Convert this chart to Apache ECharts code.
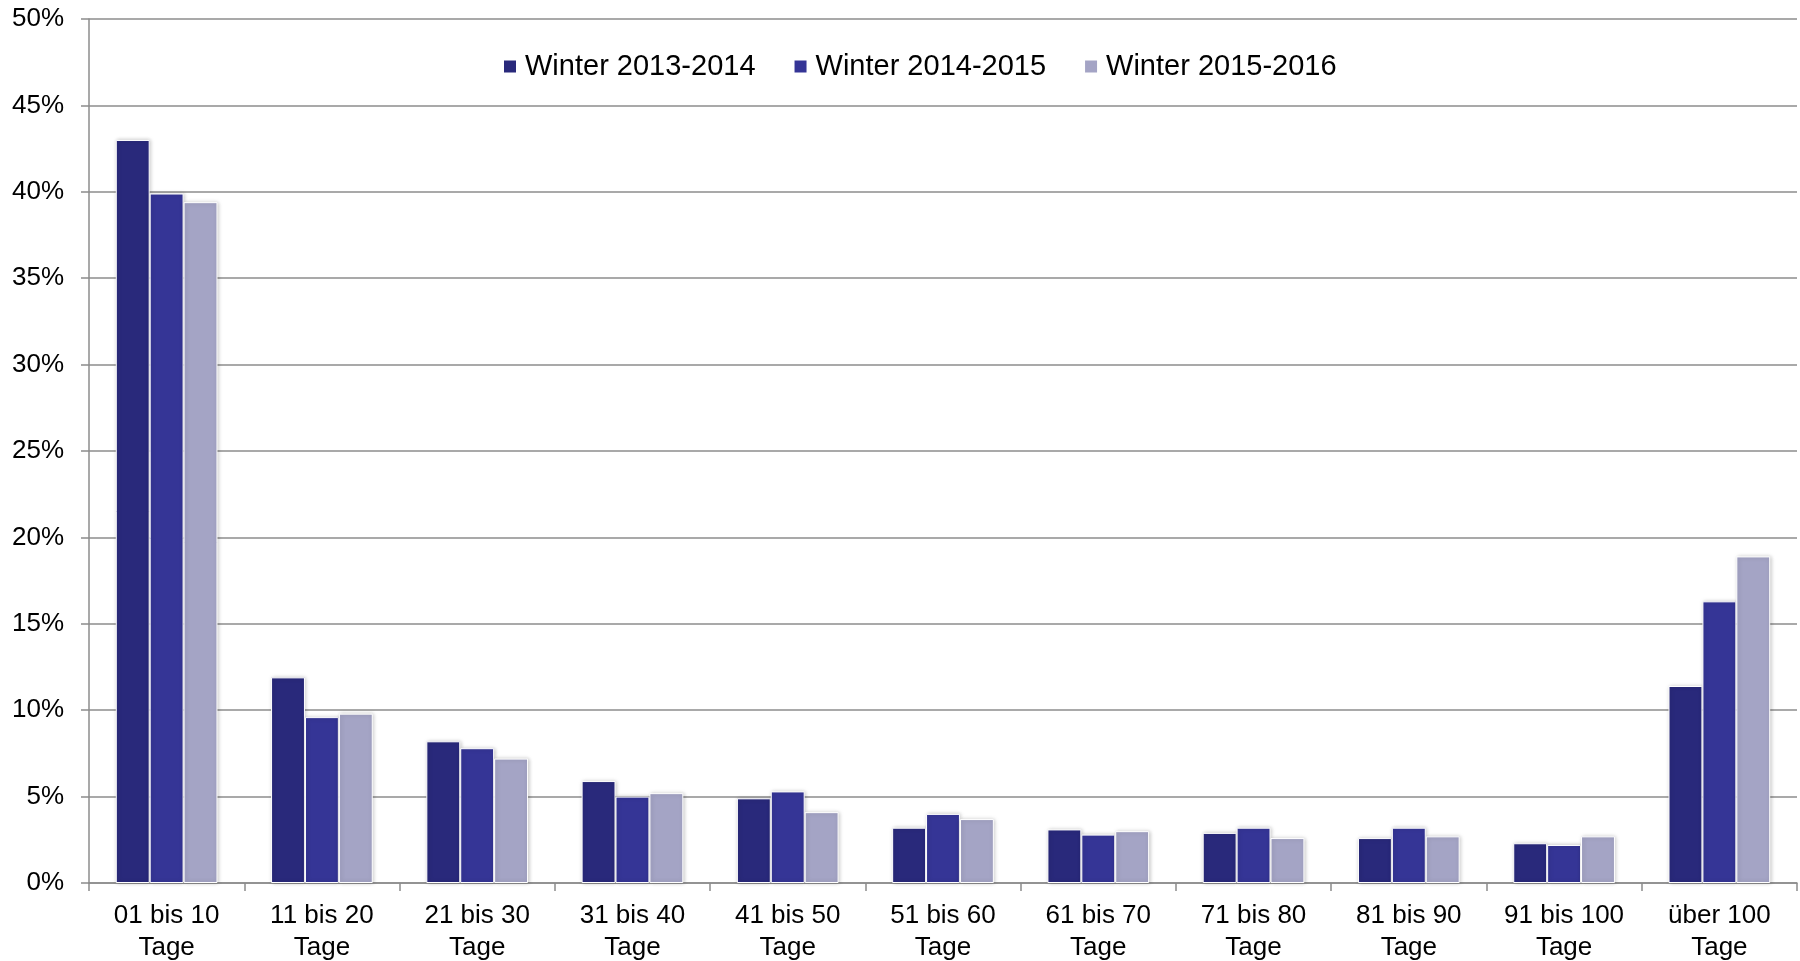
<!DOCTYPE html>
<html>
<head>
<meta charset="utf-8">
<script src="https://cdn.jsdelivr.net/npm/echarts@6/dist/echarts.min.js"></script>
<style>
  html, body { margin: 0; padding: 0; background: #fff; }
  #chart { width: 1800px; height: 961px; }
</style>
</head>
<body>
<div id="chart"></div>
<script>
// Kategorien (Aufenthaltsdauer)
var categories = ['01 bis 10\nTage', '11 bis 20\nTage', '21 bis 30\nTage', '31 bis 40\nTage',
    '41 bis 50\nTage', '51 bis 60\nTage', '61 bis 70\nTage', '71 bis 80\nTage',
    '81 bis 90\nTage', '91 bis 100\nTage', 'über 100\nTage'];

var seriesNames = ['Winter 2013-2014', 'Winter 2014-2015', 'Winter 2015-2016'];

// Anteile in %
var winter1314 = [43.0, 11.9, 8.2, 5.9, 4.9, 3.2, 3.1, 2.9, 2.6, 2.3, 11.4];
var winter1415 = [39.9, 9.6, 7.8, 5.0, 5.3, 4.0, 2.8, 3.2, 3.2, 2.2, 16.3];
var winter1516 = [39.4, 9.8, 7.2, 5.2, 4.1, 3.7, 3.0, 2.6, 2.7, 2.7, 18.9];

var colors = ['#29297b', '#353596', '#a4a4c5'];

var chart = echarts.init(document.getElementById('chart'));

function barSeries(name, data) {
    return {
        name: name,
        type: 'bar',
        data: data,
        barGap: 0,
        barCategoryGap: '34.5%',
        itemStyle: {
            borderColor: '#ffffff',
            borderWidth: 1,
            shadowColor: 'rgba(0,0,0,0.22)',
            shadowBlur: 4,
            shadowOffsetX: 1
        }
    };
}

var option = {
    animation: false,
    color: colors,
    textStyle: { fontFamily: 'Liberation Sans, Arial, sans-serif' },
    grid: { left: 89, right: 3, top: 19, bottom: 78, outerBoundsMode: 'none' },
    legend: {
        data: seriesNames,
        left: 497,
        top: 47,
        icon: 'rect',
        itemWidth: 14,
        itemHeight: 14,
        itemGap: 37,
        textStyle: { fontSize: 29, color: '#000', padding: [0, 0, 0, 3] }
    },
    xAxis: {
        type: 'category',
        data: categories,
        axisLine: { lineStyle: { color: '#8c8c8c', width: 1.5 } },
        axisTick: { show: true, length: 8, lineStyle: { color: '#8c8c8c', width: 1.5 } },
        axisLabel: { fontSize: 26, color: '#000', margin: 17, lineHeight: 32, interval: 0 }
    },
    yAxis: {
        type: 'value',
        min: 0,
        max: 50,
        interval: 5,
        axisLine: { show: true, lineStyle: { color: '#8c8c8c', width: 1.5 } },
        axisTick: { show: true, length: 8, lineStyle: { color: '#8c8c8c', width: 1.5 } },
        axisLabel: { formatter: '{value}%', fontSize: 26, color: '#000', margin: 25 },
        splitLine: { lineStyle: { color: '#8c8c8c', width: 1.5 } }
    },
    series: [
        barSeries(seriesNames[0], winter1314),
        barSeries(seriesNames[1], winter1415),
        barSeries(seriesNames[2], winter1516)
    ]
};

chart.setOption(option);
</script>
</body>
</html>
